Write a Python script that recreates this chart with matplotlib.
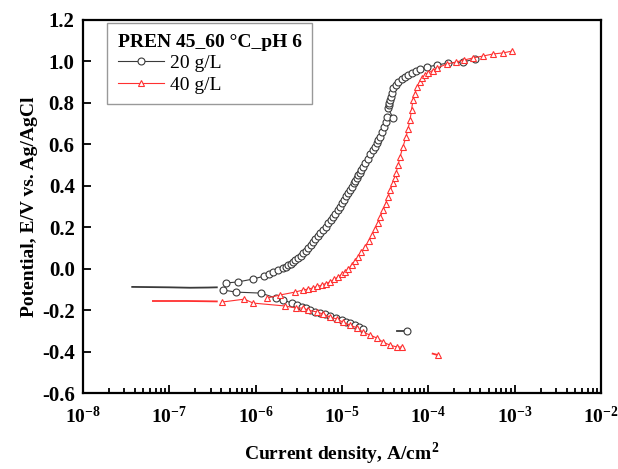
import numpy as np
import matplotlib
matplotlib.use("Agg")
import matplotlib.pyplot as plt
from matplotlib.ticker import LogLocator, FixedLocator, FuncFormatter, MultipleLocator, NullFormatter

plt.rcParams['font.family'] = ['Liberation Serif', 'DejaVu Serif']
plt.rcParams['mathtext.fontset'] = 'custom'
plt.rcParams['mathtext.rm'] = 'Liberation Serif:bold'
plt.rcParams['mathtext.bf'] = 'Liberation Serif:bold'

# 20 g/L  (log10 of current density in A/cm2, potential in V)
logi_20_flat = [-7.43, -7.2, -7.0, -6.76, -6.55, -6.45]
e_20_flat = [-0.088, -0.089, -0.090, -0.092, -0.091, -0.090]
logi_20_cath = [-6.378, -6.228, -5.938, -5.764, -5.683, -5.58, -5.52, -5.463, -5.42, -5.37,
                -5.31, -5.255, -5.20, -5.139, -5.07, -5.0, -4.95, -4.907, -4.85, -4.80, -4.757]
e_20_cath = [-0.103, -0.113, -0.118, -0.142, -0.151, -0.166, -0.176, -0.185, -0.192, -0.200,
             -0.207, -0.214, -0.221, -0.229, -0.238, -0.248, -0.255, -0.262, -0.270, -0.280, -0.291]
logi_20_anod = [-6.344, -6.205, -6.03, -5.903, -5.85, -5.799, -5.74, -5.683, -5.65, -5.625,
                -5.595, -5.567, -5.54, -5.51, -5.48, -5.452, -5.42, -5.39, -5.36, -5.336,
                -5.31, -5.28, -5.25, -5.220, -5.19, -5.16, -5.13, -5.104, -5.08, -5.05,
                -5.025, -5.0, -4.975, -4.95, -4.93, -4.907, -4.885, -4.86, -4.845, -4.83,
                -4.81, -4.79, -4.775, -4.757, -4.73, -4.70, -4.67, -4.641, -4.62, -4.60,
                -4.58, -4.560, -4.535, -4.513, -4.495, -4.479, -4.409, -4.467, -4.458, -4.45,
                -4.44, -4.432, -4.42, -4.409, -4.38, -4.351, -4.31, -4.270, -4.23, -4.189,
                -4.14, -4.096, -4.015, -3.900, -3.772, -3.598, -3.46]
e_20_anod = [-0.069, -0.064, -0.050, -0.036, -0.026, -0.016, -0.006, 0.003, 0.009, 0.016,
             0.024, 0.032, 0.042, 0.052, 0.063, 0.075, 0.087, 0.100, 0.114, 0.129,
             0.143, 0.157, 0.172, 0.187, 0.203, 0.218, 0.233, 0.249, 0.266, 0.283,
             0.300, 0.317, 0.333, 0.350, 0.365, 0.380, 0.396, 0.412, 0.425, 0.437,
             0.450, 0.462, 0.477, 0.491, 0.510, 0.530, 0.551, 0.573, 0.589, 0.605,
             0.620, 0.635, 0.660, 0.684, 0.708, 0.732, 0.727, 0.775, 0.788, 0.800,
             0.815, 0.828, 0.850, 0.872, 0.887, 0.901, 0.913, 0.925, 0.935, 0.944,
             0.954, 0.964, 0.973, 0.983, 0.992, 0.997, 1.012]
logi_20_end = [-4.36, -4.247]
e_20_end = [-0.301, -0.301]

# 40 g/L
logi_40_flat = [-7.19, -7.0, -6.8, -6.6, -6.45]
e_40_flat = [-0.156, -0.156, -0.156, -0.157, -0.158]
logi_40_cath = [-6.39, -6.13, -6.03, -5.66, -5.533, -5.452, -5.39, -5.29, -5.22, -5.139,
                -5.058, -4.988, -4.907, -4.826, -4.757, -4.676, -4.594, -4.525, -4.444, -4.363,
                -4.305]
e_40_cath = [-0.161, -0.147, -0.166, -0.180, -0.190, -0.190, -0.200, -0.209, -0.219, -0.233,
             -0.243, -0.258, -0.272, -0.286, -0.306, -0.320, -0.335, -0.354, -0.369, -0.378,
             -0.378]
logi_40_anod = [-5.87, -5.718, -5.544, -5.452, -5.39, -5.336, -5.29, -5.232, -5.19, -5.139,
                -5.09, -5.046, -5.005, -4.965, -4.925, -4.884, -4.85, -4.815, -4.775, -4.733,
                -4.69, -4.652, -4.62, -4.583, -4.555, -4.525, -4.495, -4.467, -4.44, -4.409,
                -4.39, -4.374, -4.35, -4.328, -4.295, -4.259, -4.235, -4.212, -4.195, -4.178,
                -4.155, -4.131, -4.10, -4.073, -4.04, -4.004, -3.95, -3.9, -3.784, -3.68,
                -3.585, -3.48, -3.367, -3.25, -3.135, -3.03]
e_40_anod = [-0.142, -0.127, -0.113, -0.103, -0.098, -0.093, -0.086, -0.079, -0.072, -0.064,
             -0.052, -0.040, -0.028, -0.016, 0.000, 0.018, 0.037, 0.056, 0.080, 0.104,
             0.133, 0.162, 0.191, 0.220, 0.251, 0.283, 0.314, 0.346, 0.380, 0.413,
             0.437, 0.462, 0.500, 0.539, 0.587, 0.635, 0.676, 0.717, 0.765, 0.814,
             0.845, 0.877, 0.900, 0.920, 0.933, 0.944, 0.956, 0.968, 0.988, 0.997,
             1.007, 1.017, 1.026, 1.036, 1.041, 1.050]
logi_40_end = [-3.95, -3.888]
e_40_end = [-0.410, -0.417]

x_decades = [-8, -7, -6, -5, -4, -3, -2]

c20 = '#3a3a3a'
c40 = '#ff3030'

fig = plt.figure(figsize=(6.18, 4.69), dpi=100)
ax = fig.add_axes([0.1343, 0.162, 0.8382, 0.7954])


def draw(logi, e, color, marker, label=None, marks=True):
    x = 10.0 ** np.array(logi)
    if marks:
        ax.plot(x, e, color=color, lw=0.8, marker=marker, ms=5, mfc='white',
                mec=color, mew=0.8, label=label)
    else:
        ax.plot(x, e, color=color, lw=1.3)


draw(logi_20_flat, e_20_flat, c20, 'o', marks=False)
draw(logi_20_cath, e_20_cath, c20, 'o')
draw(logi_20_anod, e_20_anod, c20, 'o', label='20 g/L')
draw(logi_20_end, e_20_end, c20, 'o', marks=False)
ax.plot(10.0 ** np.array(logi_20_end[1:]), e_20_end[1:], 'o', ms=5, mfc='white', mec=c20, mew=0.8)

draw(logi_40_flat, e_40_flat, c40, '^', marks=False)
draw(logi_40_cath, e_40_cath, c40, '^')
draw(logi_40_anod, e_40_anod, c40, '^', label='40 g/L')
draw(logi_40_end, e_40_end, c40, '^', marks=False)
ax.plot(10.0 ** np.array(logi_40_end[1:]), e_40_end[1:], '^', ms=5, mfc='white', mec=c40, mew=0.8)

ax.set_xscale('log')
ax.set_xlim(1e-8, 1e-2)
ax.set_ylim(-0.6, 1.2)
ax.xaxis.set_major_locator(FixedLocator([10.0 ** d for d in x_decades]))
ax.xaxis.set_minor_locator(LogLocator(base=10, subs=np.arange(2, 10), numticks=100))
ax.xaxis.set_minor_formatter(NullFormatter())
ax.xaxis.set_major_formatter(FuncFormatter(lambda v, p: r'$\mathbf{10^{%d}}$' % round(np.log10(v))))
ax.yaxis.set_major_locator(MultipleLocator(0.2))
ax.yaxis.set_major_formatter(FuncFormatter(lambda v, p: '%.1f' % v))

ax.tick_params(which='both', direction='in', top=False, right=False, width=1.3)
ax.tick_params(which='major', length=6)
ax.tick_params(which='minor', length=3.5)
ax.tick_params(axis='y', labelsize=15, pad=6)
ax.tick_params(axis='x', labelsize=14, pad=9)
for lab in ax.get_yticklabels():
    lab.set_fontweight('bold')
for sp in ax.spines.values():
    sp.set_linewidth(1.6)

ax.set_xlabel(r'Current density, A/cm$^\mathbf{2}$', fontsize=14, fontweight='bold', labelpad=10)
ax.set_ylabel('Potential, E/V vs. Ag/AgCl', fontsize=14, fontweight='bold', labelpad=3)

leg = ax.legend(loc='upper left', bbox_to_anchor=(0.046, 0.992), fontsize=14,
                title='PREN 45_60 °C_pH 6', title_fontproperties={'weight': 'bold', 'size': 14},
                alignment='left', fancybox=False, edgecolor='#808080', borderpad=0.55,
                handlelength=2.4, handletextpad=0.3, labelspacing=0.2, borderaxespad=0)
leg.get_frame().set_linewidth(1.0)

fig.savefig('out.png', dpi=100)
